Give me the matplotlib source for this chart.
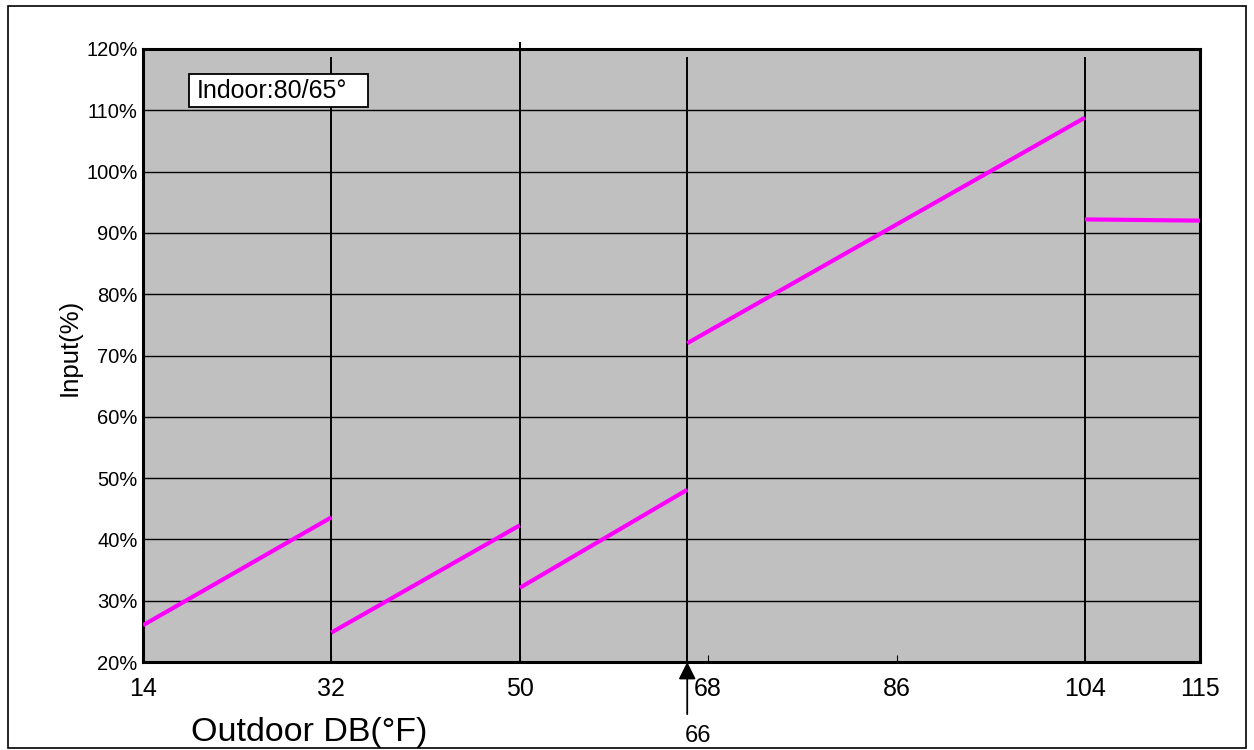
import matplotlib
matplotlib.use("Agg")
import matplotlib.pyplot as plt
from matplotlib.patches import Rectangle

plt.rcParams["font.family"] = ["Liberation Sans", "DejaVu Sans"]

# segment end points (outdoor DB in F, input in %)
seg_x = [[14, 32], [32, 50], [50, 66], [66, 104], [104, 115]]
seg_y = [[26.0, 43.6], [24.8, 42.3], [32.1, 48.1], [72.0, 108.8], [92.2, 92.0]]

split_temps = [32, 50, 66, 104]
x_ticks = [14, 32, 50, 68, 86, 104, 115]
y_ticks = list(range(20, 121, 10))
marked_temp = 66

fig = plt.figure(figsize=(12.54, 7.5), dpi=100)
ax = fig.add_axes([0.114, 0.1173, 0.843, 0.8174])
ax.set_facecolor("#C0C0C0")

for yv in y_ticks[1:-1]:
    ax.axhline(yv, color="black", lw=1.0, zorder=1)

for xv in split_temps:
    top = 1.01 if xv == 50 else 0.985
    ax.plot([xv, xv], [0, top], transform=ax.get_xaxis_transform(),
            color="black", lw=1.4, clip_on=False, zorder=2)

for xs, ys in zip(seg_x, seg_y):
    ax.plot(xs, ys, color="#FF00FF", lw=3, solid_capstyle="butt", zorder=3)

ax.set_xlim(14, 115)
ax.set_ylim(20, 120)
ax.set_xticks(x_ticks)
ax.set_yticks(y_ticks)
ax.set_yticklabels([f"{v}%" for v in y_ticks])
ax.tick_params(axis="x", direction="in", length=5, labelsize=18, pad=11)
ax.tick_params(axis="y", length=0, labelsize=14.5, pad=4)
for s in ax.spines.values():
    s.set_linewidth(2.2)

ax.set_ylabel("Input(%)", fontsize=18.5)
ax.yaxis.set_label_coords(-0.058, 0.514)
ax.set_xlabel("Outdoor DB(°F)", fontsize=24.5)
ax.xaxis.set_label_coords(0.157, -0.09)

# "Indoor" note box
ax.add_patch(Rectangle((0.0435, 0.9054), 0.1694, 0.0538, transform=ax.transAxes,
                       fc="white", ec="black", lw=1.3, zorder=5))
ax.text(0.051, 0.932, "Indoor:80/65°", transform=ax.transAxes, fontsize=18,
        va="center", ha="left", zorder=6)

# marker for 66F below the axis
ax.annotate("", xy=(marked_temp, 20), xytext=(marked_temp, 11.5),
            arrowprops=dict(arrowstyle="-|>", color="black", lw=1.3,
                            mutation_scale=26, shrinkA=0, shrinkB=0),
            annotation_clip=False)
ax.text(marked_temp + 1.0, 8.0, "66", fontsize=17, ha="center", va="center",
        clip_on=False)

fig.add_artist(Rectangle((0.0065, 0.003), 0.987, 0.989, transform=fig.transFigure,
                         fill=False, ec="black", lw=1.2))

fig.savefig("out.png", dpi=100)
